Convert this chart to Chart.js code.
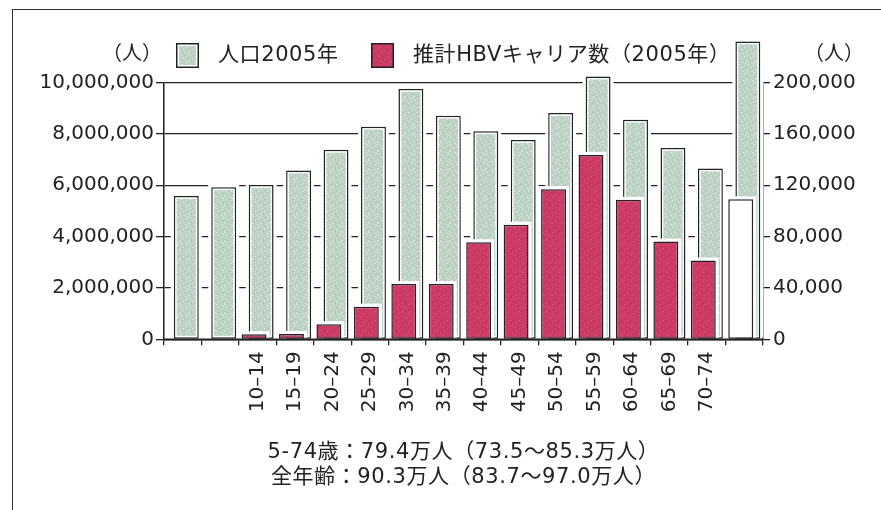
<!DOCTYPE html>
<html>
<head>
<meta charset="utf-8">
<script src="https://cdn.jsdelivr.net/npm/chart.js@4.4.1/dist/chart.umd.min.js"></script>
<style>
  html, body { margin: 0; padding: 0; background: #fff; }
  #wrap { position: relative; width: 881px; height: 510px; overflow: hidden; }
  #frame { position: absolute; left: 12px; top: 9px; right: -4px; bottom: -4px;
           border-top: 1.5px solid #333; border-left: 1.5px solid #333; pointer-events: none; }
</style>
</head>
<body>
<div id="wrap"><canvas id="c"></canvas><div id="frame"></div></div>
<script>
// Age groups (first two and the 75+ group carry no printed label)
const ageGroups = ['', '', '10–14', '15–19', '20–24', '25–29', '30–34', '35–39',
  '40–44', '45–49', '50–54', '55–59', '60–64', '65–69', '70–74', ''];
// Population by age group, 2005 (left axis, persons)
const population2005 = [5580000, 5920000, 6010000, 6570000, 7380000, 8280000, 9750000, 8710000,
  8100000, 7760000, 8810000, 10230000, 8550000, 7450000, 6650000, 11600000];
// Estimated HBV carriers by age group, 2005 (right axis, persons); last value is the 75+ estimate
const hbvCarriers2005 = [null, null, 4000, 4200, 11700, 25400, 43100, 43000,
  75600, 89300, 116900, 143600, 108600, 76100, 61300, 109000];
const populationTicks = [0, 2000000, 4000000, 6000000, 8000000, 10000000];
const carrierTicks = [0, 40000, 80000, 120000, 160000, 200000];
const legendLabels = ['人口2005年', '推計HBVキャリア数（2005年）'];
const unitLabel = '（人）';
const noteLines = ['5-74歳：79.4万人（73.5～85.3万人）', '全年齢：90.3万人（83.7～97.0万人）'];

const FONT = "'DejaVu Sans', 'Noto Sans CJK JP', sans-serif";
const INK = '#222';
const GREEN = '#bdd2c5';
const RED = '#cc3a66';

// small speckled tiles for the bar fills
function speckle(size, base, light, dark, lightDots, darkDots) {
  const t = document.createElement('canvas');
  t.width = size; t.height = size;
  const g = t.getContext('2d');
  g.fillStyle = base; g.fillRect(0, 0, size, size);
  g.fillStyle = light;
  lightDots.forEach(([x, y]) => g.fillRect(x, y, 1, 1));
  g.fillStyle = dark;
  darkDots.forEach(([x, y]) => g.fillRect(x, y, 1, 1));
  return g.createPattern(t, 'repeat');
}
const greenFill = speckle(9, GREEN, '#e6efe9', '#a9c1b2',
  [[1, 1], [6, 2], [3, 4], [8, 6], [0, 7], [5, 8], [7, 0]],
  [[4, 1], [2, 6], [7, 4]]);
const redFill = speckle(9, RED, '#d65a80', '#b82e5a',
  [[1, 2], [6, 5], [3, 7], [8, 0]],
  [[4, 3], [0, 5], [7, 8]]);
const lastIndex = ageGroups.length - 1;

function drawBarBox(ctx, x0, y0, x1, y1, fill, inner) {
  ctx.fillStyle = INK;
  ctx.fillRect(x0, y0, x1 - x0, y1 - y0);
  ctx.fillStyle = inner ? '#fff' : fill;
  ctx.fillRect(x0 + 1.5, y0 + 1.5, x1 - x0 - 3, y1 - y0 - 3);
  if (inner) {
    ctx.fillStyle = fill;
    ctx.fillRect(x0 + 3, y0 + 3, x1 - x0 - 6, y1 - y0 - 6);
  }
}

// white margin around each bar so grid lines stop short of it,
// plus the thin white inner rim of the population bars
const barHalo = {
  id: 'barHalo',
  beforeDatasetDraw(chart, args) {
    const ctx = chart.ctx;
    const values = chart.data.datasets[args.index].data;
    ctx.save();
    ctx.fillStyle = '#fff';
    args.meta.data.forEach((el, i) => {
      if (values[i] == null) return;
      const p = el.getProps(['x', 'y', 'base', 'width'], true);
      ctx.fillRect(p.x - p.width / 2 - 3, p.y - 3, p.width + 6, p.base - p.y + 2);
    });
    ctx.restore();
  },
  afterDatasetDraw(chart, args) {
    if (args.index !== 1) return;
    const ctx = chart.ctx;
    ctx.save();
    ctx.strokeStyle = '#fff';
    ctx.lineWidth = 1.2;
    args.meta.data.forEach((el) => {
      const p = el.getProps(['x', 'y', 'base', 'width'], true);
      ctx.strokeRect(p.x - p.width / 2 + 2.2, p.y + 2.2, p.width - 4.4, p.base - p.y - 4.4);
    });
    ctx.restore();
  },
  afterDatasetsDraw(chart) {
    // baseline redrawn over the halos
    const ctx = chart.ctx;
    const a = chart.chartArea;
    const y0 = chart.scales.y.getPixelForValue(0);
    ctx.save();
    ctx.strokeStyle = INK;
    ctx.lineWidth = 1.5;
    ctx.beginPath();
    ctx.moveTo(a.left, y0);
    ctx.lineTo(a.right, y0);
    ctx.stroke();
    ctx.restore();
  }
};

// legend, unit labels and the summary notes
const annotations = {
  id: 'annotations',
  afterDraw(chart) {
    const ctx = chart.ctx;
    const a = chart.chartArea;
    ctx.save();
    ctx.textBaseline = 'middle';
    ctx.fillStyle = INK;

    const ly = 56;
    const legendX = [176, 371];
    ctx.font = '21px ' + FONT;
    ctx.letterSpacing = '0.6px';
    legendLabels.forEach((label, i) => {
      const x = legendX[i];
      drawBarBox(ctx, x, ly - 13, x + 23, ly + 12, i === 0 ? greenFill : redFill, i === 0);
      ctx.fillStyle = INK;
      ctx.textAlign = 'left';
      ctx.fillText(label, x + 42, ly);
    });

    ctx.font = '20px ' + FONT;
    ctx.letterSpacing = '0px';
    ctx.textAlign = 'right';
    ctx.fillText(unitLabel, a.left - 2, ly - 1);
    ctx.fillText(unitLabel, 864, ly - 1);

    ctx.font = '21px ' + FONT;
    ctx.letterSpacing = '0.6px';
    ctx.textAlign = 'center';
    const cx = (a.left + a.right) / 2;
    noteLines.forEach((line, i) => ctx.fillText(line, cx, 453 + i * 25));
    ctx.restore();
  }
};

const fmt = (v) => Number(v).toLocaleString('en-US');

new Chart(document.getElementById('c'), {
  type: 'bar',
  data: {
    labels: ageGroups,
    datasets: [
      {
        label: legendLabels[1],
        data: hbvCarriers2005,
        yAxisID: 'yR',
        backgroundColor: (c) => (c.dataIndex === lastIndex ? '#fff' : redFill),
        borderColor: INK,
        borderWidth: 1.5,
        borderSkipped: false
      },
      {
        label: legendLabels[0],
        data: population2005,
        yAxisID: 'y',
        backgroundColor: greenFill,
        borderColor: INK,
        borderWidth: 1.5,
        borderSkipped: false,
        clip: false
      }
    ]
  },
  options: {
    responsive: true,
    maintainAspectRatio: false,
    animation: false,
    events: [],
    categoryPercentage: 0.38,
    barPercentage: 3.5,
    layout: { padding: { top: 82.5, left: 0, right: 0, bottom: 0 } },
    plugins: { legend: { display: false }, tooltip: { enabled: false }, title: { display: false } },
    scales: {
      x: {
        grid: { drawOnChartArea: false, drawTicks: true, tickLength: 6, offset: true, color: INK, lineWidth: 1.3 },
        border: { display: true, color: INK, width: 1.5 },
        ticks: { font: { family: FONT, size: 20 }, color: INK, minRotation: 90, maxRotation: 90,
                 autoSkip: false, padding: 6 },
        afterFit: (s) => { s.height = 170.7; }
      },
      y: {
        position: 'left',
        min: 0, max: 10000000,
        afterBuildTicks: (s) => { s.ticks = populationTicks.map((v) => ({ value: v })); },
        grid: { drawOnChartArea: true, drawTicks: true, tickLength: 8, color: INK, lineWidth: 1.3 },
        border: { display: true, color: INK, width: 1.5 },
        ticks: { font: { family: FONT, size: 20 }, color: INK, padding: 2, callback: fmt },
        afterFit: (s) => { s.width = 164; }
      },
      yR: {
        position: 'right',
        min: 0, max: 200000,
        afterBuildTicks: (s) => { s.ticks = carrierTicks.map((v) => ({ value: v })); },
        grid: { drawOnChartArea: false, drawTicks: true, tickLength: 7, color: INK, lineWidth: 1.3 },
        border: { display: true, color: INK, width: 1.5 },
        ticks: { font: { family: FONT, size: 20 }, color: INK, padding: 3, callback: fmt },
        afterFit: (s) => { s.width = 118; }
      }
    }
  },
  plugins: [barHalo, annotations]
});
</script>
</body>
</html>
